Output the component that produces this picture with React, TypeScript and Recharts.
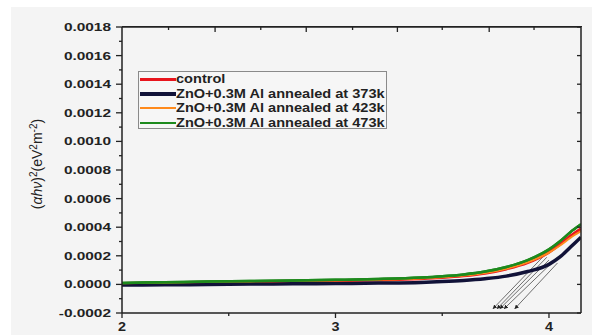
import React from "react";
import { LineChart, Line, XAxis, YAxis, ReferenceLine } from "recharts";

const energy = [2.0, 2.2, 2.4, 2.6, 2.8, 3.0, 3.2, 3.4, 3.5, 3.6, 3.7, 3.8, 3.9, 4.0, 4.05, 4.1, 4.15];
const control = [0.000006, 0.00001, 0.000015, 0.000019, 0.000022, 0.000026, 0.000031, 0.00004, 0.000048, 0.00006, 0.000078, 0.000108, 0.000152, 0.000225, 0.000278, 0.000338, 0.00039];
const ann373 = [-0.000004, -0.000003, -0.000001, 0.000002, 0.000004, 0.000006, 0.000009, 0.000014, 0.00002, 0.000028, 0.00004, 0.000058, 0.00009, 0.00014, 0.00019, 0.00026, 0.00033];
const ann423 = [0.000008, 0.000012, 0.000017, 0.000021, 0.000024, 0.000028, 0.000033, 0.000042, 0.00005, 0.000062, 0.00008, 0.00011, 0.000155, 0.000222, 0.00027, 0.000325, 0.000372];
const ann473 = [0.00001, 0.000015, 0.00002, 0.000024, 0.000028, 0.000032, 0.000038, 0.000048, 0.000057, 0.00007, 0.00009, 0.000122, 0.00017, 0.000245, 0.0003, 0.000365, 0.00042];

// Tauc extrapolation lines: start on the curves, end near the axis
const tangentStartX = [3.97, 3.99, 4.0, 4.02, 4.04];
const tangentStartY = [0.00019, 0.00019, 0.00017, 0.00016, 0.00015];
const tangentEndX = [3.738, 3.757, 3.77, 3.79, 3.84];
const tangentEndY = -0.00017;

const yTicks = [-0.0002, -0.0001, 0, 0.0001, 0.0002, 0.0003, 0.0004, 0.0005, 0.0006, 0.0007, 0.0008, 0.0009, 0.001, 0.0011, 0.0012, 0.0013, 0.0014, 0.0015, 0.0016, 0.0017, 0.0018];
const yMajor = [-0.0002, 0, 0.0002, 0.0004, 0.0006, 0.0008, 0.001, 0.0012, 0.0014, 0.0016, 0.0018];
const yMax = 0.0018;
const xTicks = [2, 2.5, 3, 3.5, 4];
const xLabels = [2, 3, 4];
const topTicks = [2.218, 2.436, 2.65, 2.863, 3.08, 3.29, 3.5, 3.72, 3.93];
const topMajor = [2.436, 2.863, 3.29, 3.72];

const series = [
  { key: "control", name: "control", color: "#e8151d", width: 3 },
  { key: "a373", name: "ZnO+0.3M Al annealed at 373k", color: "#111238", width: 3.5 },
  { key: "a423", name: "ZnO+0.3M Al annealed at 423k", color: "#ff8a1c", width: 2 },
  { key: "a473", name: "ZnO+0.3M Al annealed at 473k", color: "#1d8a1d", width: 2.5 },
];

const data = energy.map((e, i) => ({
  e,
  control: control[i],
  a373: ann373[i],
  a423: ann423[i],
  a473: ann473[i],
}));

const near = (a: number, list: number[]) => list.some((v) => Math.abs(v - a) < 1e-9);
const font = "'Liberation Sans', Arial, sans-serif";

function LeftTick(props: any) {
  const { x, y, payload } = props;
  const major = near(payload.value, yMajor);
  return (
    <g>
      <line x1={x} x2={x - (major ? 6 : 3)} y1={y} y2={y} stroke="#222" strokeWidth={1.3} />
      {major && (
        <text
          transform={`translate(${x - 11},${y + 4}) scale(1.4,1)`}
          textAnchor="end"
          fontSize={11}
          fontWeight="bold"
          fill="#222"
          fontFamily={font}
        >
          {payload.value.toFixed(4)}
        </text>
      )}
    </g>
  );
}

function RightTick(props: any) {
  const { x, y, payload } = props;
  if (!near(payload.value, yMajor)) return <g />;
  return <line x1={x} x2={x - 4} y1={y} y2={y} stroke="#222" strokeWidth={1.3} />;
}

function BottomTick(props: any) {
  const { x, y, payload } = props;
  const major = near(payload.value, xLabels);
  return (
    <g>
      <line x1={x} x2={x} y1={y} y2={y + (major ? 5 : 3)} stroke="#222" strokeWidth={1.3} />
      {major && (
        <text
          transform={`translate(${x},${y + 18}) scale(1.2,1)`}
          textAnchor="middle"
          fontSize={12}
          fontWeight="bold"
          fill="#222"
          fontFamily={font}
        >
          {payload.value}
        </text>
      )}
    </g>
  );
}

function TopTick(props: any) {
  const { x, y, payload } = props;
  const major = near(payload.value, topMajor);
  return <line x1={x} x2={x} y1={y} y2={y + (major ? 5 : 3)} stroke="#222" strokeWidth={1.3} />;
}

export default function App() {
  return (
    <div style={{ position: "absolute", left: 0, top: 0, width: 592, height: 335, background: "#fff", fontFamily: font }}>
      <div style={{ position: "absolute", left: 11, top: 7, width: 581, height: 328, background: "#f4f4f4" }} />
      <svg width={60} height={335} style={{ position: "absolute", left: 0, top: 0 }}>
        <defs>
          <marker id="arrow" viewBox="0 0 10 10" refX="9" refY="5" markerWidth="6" markerHeight="6" orient="auto">
            <path d="M0,0 L10,5 L0,10 z" fill="#222" />
          </marker>
        </defs>
        <text
          transform="translate(42,164) rotate(-90)"
          textAnchor="middle"
          fontSize={14}
          fill="#222"
          fontFamily={font}
        >
          <tspan>(</tspan>
          <tspan fontStyle="italic">αhν</tspan>
          <tspan>)</tspan>
          <tspan fontSize={10} dy={-5}>2</tspan>
          <tspan dy={5}>(eV</tspan>
          <tspan fontSize={10} dy={-5}>2</tspan>
          <tspan dy={5}>m</tspan>
          <tspan fontSize={10} dy={-5}>-2</tspan>
          <tspan dy={5}>)</tspan>
        </text>
      </svg>
      {/* frame top edge */}
      <div style={{ position: "absolute", left: 122, top: 26, width: 460, height: 0, borderTop: "1.5px solid #222" }} />
      <div style={{ position: "absolute", left: 0, top: 0 }}>
        <LineChart width={592} height={335} data={data} margin={{ top: 7, right: 10, bottom: 0, left: 0 }}>
          <XAxis
            dataKey="e"
            type="number"
            domain={[2, 4.15]}
            allowDataOverflow
            ticks={xTicks}
            interval={0}
            height={22}
            tickSize={0}
            tickMargin={0}
            tickLine={false}
            tick={<BottomTick />}
            axisLine={{ stroke: "#222", strokeWidth: 1.5 }}
          />
          <XAxis
            xAxisId="top"
            orientation="top"
            dataKey="e"
            type="number"
            domain={[2, 4.15]}
            allowDataOverflow
            ticks={topTicks}
            interval={0}
            height={20}
            tickSize={0}
            tickMargin={0}
            tickLine={false}
            tick={<TopTick />}
            axisLine={{ stroke: "#222", strokeWidth: 1.5 }}
          />
          <YAxis
            type="number"
            domain={[-0.0002, yMax]}
            allowDataOverflow
            ticks={yTicks}
            interval={0}
            width={122}
            tickSize={0}
            tickMargin={0}
            tickLine={false}
            tick={<LeftTick />}
            axisLine={{ stroke: "#222", strokeWidth: 1.5 }}
          />
          <YAxis
            yAxisId="right"
            orientation="right"
            type="number"
            domain={[-0.0002, yMax]}
            allowDataOverflow
            ticks={yTicks}
            interval={0}
            width={1}
            tickSize={0}
            tickMargin={0}
            tickLine={false}
            tick={<RightTick />}
            axisLine={{ stroke: "#222", strokeWidth: 1.5 }}
          />
          {tangentStartX.map((sx, i) => (
            <ReferenceLine
              key={"t" + i}
              segment={[
                { x: sx, y: tangentStartY[i] },
                { x: tangentEndX[i], y: tangentEndY },
              ]}
              stroke="#333"
              strokeWidth={0.7}
              markerEnd="url(#arrow)"
            />
          ))}
          {series.map((s) => (
            <Line
              key={s.key}
              dataKey={s.key}
              type="monotone"
              stroke={s.color}
              strokeWidth={s.width}
              dot={false}
              isAnimationActive={false}
            />
          ))}
          <Line
            xAxisId="top"
            yAxisId="right"
            dataKey="a473"
            type="monotone"
            stroke="#1d8a1d"
            strokeWidth={2.5}
            dot={false}
            isAnimationActive={false}
          />
        </LineChart>
      </div>
      <div
        style={{
          position: "absolute",
          left: 138,
          top: 71,
          width: 247,
          height: 56,
          border: "1px solid #8a8a8a",
          background: "#f6f6f6",
        }}
      >
        {series.map((s) => (
          <div key={s.key} style={{ display: "flex", alignItems: "center", height: 14.5 }}>
            <div style={{ width: 36, height: Math.max(2, s.width), background: s.color, marginLeft: 1, flexShrink: 0 }} />
            <span
              style={{
                fontSize: 13,
                fontWeight: "bold",
                color: "#222",
                lineHeight: "14px",
                whiteSpace: "nowrap",
                display: "inline-block",
                transform: "scaleX(1.12)",
                transformOrigin: "left center",
              }}
            >
              {s.name}
            </span>
          </div>
        ))}
      </div>
    </div>
  );
}
